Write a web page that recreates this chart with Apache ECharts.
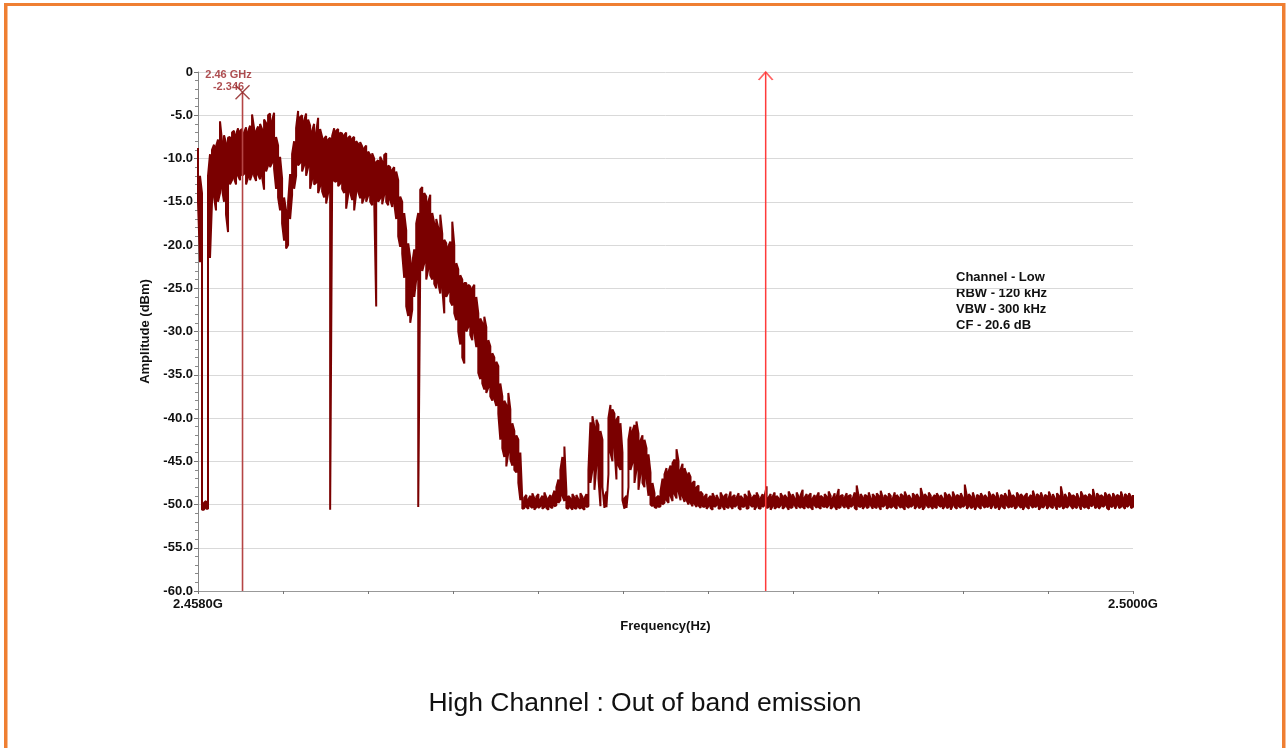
<!DOCTYPE html>
<html>
<head>
<meta charset="utf-8">
<script src="https://cdn.jsdelivr.net/npm/echarts@6/dist/echarts.min.js"></script>
<style>
html,body{margin:0;padding:0;background:#fff;}
#chart{width:1288px;height:748px;}
</style>
</head>
<body>
<div id="chart"></div>
<script>
// Sweep range (GHz)
const freqStart = 2.458;
const freqStop = 2.5;
// Per-bin peak (max) and minimum amplitude (dBm) of the trace, evenly spaced sweep bins
const traceMaxDbm = [
-8.8,-12.0,-14.0,-49.8,-49.6,-12.0,-9.5,-9.0,-8.4,-8.6,
-7.8,-5.7,-8.0,-7.3,-8.2,-7.6,-7.5,-7.0,-6.8,-7.2,
-6.5,-6.8,-6.6,-7.0,-6.4,-6.9,-6.2,-4.9,-6.5,-6.8,
-6.3,-6.0,-6.6,-5.5,-5.9,-5.0,-4.8,-5.6,-4.7,-7.5,
-8.5,-9.8,-12.3,-14.5,-16.0,-15.0,-11.8,-9.5,-8.0,-6.5,
-4.5,-5.2,-5.0,-5.6,-4.8,-5.5,-6.2,-6.8,-6.0,-7.0,
-5.3,-6.6,-7.5,-7.7,-7.4,-7.8,-7.6,-7.4,-6.5,-6.8,
-6.6,-7.0,-7.1,-7.3,-7.0,-7.6,-7.4,-7.7,-7.5,-8.0,
-8.3,-8.1,-8.6,-8.8,-8.5,-9.2,-9.6,-9.4,-10.0,-10.4,
-10.2,-9.8,-10.3,-9.6,-9.4,-10.8,-11.0,-11.3,-11.0,-11.5,
-12.5,-14.4,-15.0,-16.3,-18.3,-19.8,-21.5,-22.1,-20.5,-17.5,
-16.3,-13.6,-13.3,-14.0,-14.4,-15.0,-14.2,-16.3,-17.5,-17.0,
-18.0,-16.5,-18.7,-19.4,-19.8,-20.2,-19.6,-17.3,-20.0,-22.1,
-22.8,-23.5,-24.0,-24.4,-24.4,-24.6,-24.8,-25.0,-24.6,-26.0,
-27.9,-28.5,-29.0,-28.3,-29.5,-31.0,-31.7,-32.5,-33.0,-33.5,
-34.0,-36.0,-37.5,-38.0,-38.5,-37.1,-39.0,-40.6,-41.5,-42.0,
-42.5,-44.0,-49.6,-49.2,-48.9,-49.4,-49.0,-48.7,-49.3,-49.1,
-48.8,-49.4,-49.0,-48.6,-49.2,-49.3,-48.9,-49.1,-48.4,-48.0,
-47.1,-46.0,-44.5,-43.3,-48.5,-49.0,-49.3,-48.8,-49.2,-48.9,
-49.4,-48.7,-49.1,-49.3,-48.8,-46.0,-40.5,-39.8,-41.0,-40.2,
-40.8,-41.5,-42.5,-49.2,-48.5,-40.0,-38.5,-39.0,-39.5,-40.2,
-39.8,-40.6,-44.0,-49.3,-49.0,-42.5,-41.0,-41.5,-40.8,-40.4,
-41.8,-42.6,-42.0,-42.5,-43.5,-44.2,-46.3,-47.5,-48.7,-49.2,
-49.0,-48.5,-47.0,-46.5,-45.8,-46.2,-45.5,-45.2,-44.8,-43.6,
-45.0,-46.0,-45.3,-45.8,-46.5,-46.3,-46.8,-47.5,-47.3,-48.0,
-47.8,-48.5,-48.8,
-49.1,-48.8,-49.3,-49.0,-48.7,-49.2,-48.9,-49.4,-48.6,-49.1,
-49.0,-48.8,-49.3,-48.5,-49.1,-48.9,-49.2,-48.7,-49.0,-49.3,
-48.8,-49.1,-48.4,-49.0,-49.2,-48.9,-48.6,-49.1,-49.3,-48.8,
-49.0,-47.9,-49.2,-48.8,-49.1,-48.6,-49.0,-49.3,-48.7,-49.1,
-48.9,-49.2,-48.5,-49.0,-48.8,-49.3,-48.6,-49.1,-48.9,-48.3,
-49.2,-48.8,-49.0,-48.7,-49.3,-48.9,-49.1,-48.6,-49.0,-49.2,
-48.8,-49.1,-48.5,-49.0,-49.3,-48.7,-49.1,-48.2,-49.0,-48.9,
-49.2,-48.7,-49.0,-48.9,-49.3,-48.6,-47.8,-49.1,-48.8,-49.2,
-48.9,-49.0,-48.6,-49.3,-48.8,-49.1,-48.7,-49.0,-48.4,-49.2,
-48.9,-49.1,-48.7,-49.0,-49.3,-48.6,-48.9,-49.2,-48.8,-49.0,
-48.5,-49.1,-48.9,-49.3,-48.7,-49.0,-48.8,-49.2,-48.1,-49.0,
-48.8,-49.1,-48.6,-49.0,-49.2,-48.9,-48.7,-49.1,-48.9,-49.3,
-48.6,-49.0,-48.8,-49.2,-48.5,-49.1,-48.9,-49.0,-48.7,-49.2,
-47.7,-49.0,-48.8,-49.1,-48.6,-49.3,-48.9,-49.0,-48.7,-49.1,
-48.9,-49.2,-48.5,-49.0,-48.8,-49.1,-48.6,-49.3,-48.9,-49.0,
-48.7,-49.1,-48.3,-49.0,-48.9,-49.2,-48.6,-49.0,-48.8,-49.1,
-49.0,-48.7,-49.2,-48.9,-48.4,-49.1,-48.8,-49.0,-48.6,-49.2,
-48.9,-49.0,-48.5,-49.1,-48.8,-49.3,-48.7,-49.0,-47.9,-49.1,
-48.8,-49.2,-48.6,-49.0,-48.9,-49.1,-48.7,-49.3,-48.5,-49.0,
-48.9,-49.1,-48.8,-49.0,-48.2,-49.2,-48.7,-49.0,-48.9,-49.1,
-48.6,-49.0,-48.8,-49.2,-48.7,-49.1,-48.9,-49.0,-48.5,-49.2,
-48.8,-49.0,-48.7,-49.1,-48.9
];
const traceMinDbm = [
-15.0,-22.0,-50.6,-50.6,-50.5,-50.5,-21.5,-15.0,-14.5,-16.0,
-15.0,-14.0,-13.5,-15.0,-16.5,-18.5,-13.0,-12.5,-12.3,-13.0,
-12.0,-12.5,-12.0,-11.8,-13.0,-12.2,-12.5,-11.8,-12.0,-12.6,
-11.9,-12.4,-12.1,-13.6,-11.5,-10.8,-11.0,-10.5,-11.2,-13.5,
-14.5,-16.0,-17.5,-19.5,-20.4,-20.0,-17.0,-14.2,-13.5,-12.0,
-10.8,-10.5,-11.5,-10.8,-12.0,-11.0,-13.5,-12.4,-13.0,-12.8,
-14.0,-13.2,-13.8,-14.5,-15.2,-14.0,-50.6,-13.0,-12.6,-12.7,
-13.2,-12.9,-13.5,-14.0,-15.8,-14.2,-13.9,-14.8,-16.0,-14.0,
-13.8,-14.6,-15.2,-14.5,-15.0,-14.3,-15.0,-15.4,-14.8,-27.1,
-15.0,-14.6,-15.3,-14.2,-15.0,-15.4,-14.8,-15.6,-15.2,-17.0,
-19.0,-20.2,-21.0,-23.8,-27.1,-28.2,-29.0,-27.5,-26.0,-24.0,
-50.3,-22.5,-23.0,-22.1,-24.0,-22.8,-23.5,-24.0,-24.5,-25.0,
-24.4,-25.6,-25.0,-27.9,-26.0,-25.5,-26.5,-27.0,-27.9,-28.7,
-30.0,-31.5,-33.0,-33.7,-30.0,-29.5,-30.4,-31.0,-30.2,-31.8,
-34.8,-35.5,-36.0,-36.7,-37.1,-36.5,-37.5,-38.0,-37.8,-38.6,
-39.5,-42.5,-43.5,-44.5,-45.6,-44.0,-44.8,-45.5,-46.0,-46.3,
-47.5,-49.5,-50.5,-50.4,-50.3,-50.5,-50.2,-50.4,-50.6,-50.3,
-50.4,-50.2,-50.5,-50.3,-50.4,-50.6,-50.3,-50.4,-50.2,-50.1,
-49.8,-49.5,-49.0,-49.6,-50.4,-50.5,-50.3,-50.6,-50.4,-50.5,
-50.3,-50.5,-50.4,-50.6,-50.3,-50.2,-47.5,-46.0,-48.3,-45.5,
-47.0,-50.2,-48.0,-50.4,-50.3,-46.5,-44.0,-45.0,-43.5,-47.1,
-45.5,-46.0,-49.5,-50.5,-50.4,-48.0,-46.0,-45.2,-47.5,-46.0,
-48.3,-46.5,-47.5,-48.0,-47.0,-49.0,-50.0,-50.2,-50.3,-50.4,
-50.3,-50.2,-50.0,-49.8,-49.5,-49.8,-49.0,-49.6,-48.8,-49.3,
-48.5,-49.5,-49.0,-49.7,-49.5,-50.0,-49.8,-50.2,-49.9,-50.3,
-50.1,-50.4,-50.2,
-50.3,-50.5,-50.2,-50.4,-50.6,-50.3,-50.1,-50.5,-50.4,-50.2,
-50.6,-50.3,-50.4,-50.2,-50.5,-50.3,-50.1,-50.4,-50.6,-50.3,
-50.2,-50.5,-50.4,-50.1,-50.3,-50.6,-50.2,-50.4,-50.5,-50.3,
-50.1,-50.4,-50.3,-50.6,-50.2,-50.5,-50.3,-50.4,-50.1,-50.5,
-50.3,-50.2,-50.6,-50.4,-50.3,-50.1,-50.5,-50.2,-50.4,-50.3,
-50.5,-50.2,-50.4,-50.3,-50.6,-50.1,-50.4,-50.3,-50.5,-50.2,
-50.3,-50.4,-50.1,-50.5,-50.3,-50.2,-50.6,-50.4,-50.3,-50.1,
-50.4,-50.2,-50.5,-50.3,-50.1,-50.4,-50.6,-50.2,-50.3,-50.5,
-50.2,-50.4,-50.3,-50.1,-50.5,-50.3,-50.4,-50.2,-50.6,-50.3,
-50.1,-50.5,-50.3,-50.4,-50.2,-50.3,-50.5,-50.1,-50.4,-50.3,
-50.6,-50.2,-50.4,-50.3,-50.1,-50.5,-50.2,-50.4,-50.3,-50.6,
-50.3,-50.1,-50.4,-50.2,-50.5,-50.3,-50.4,-50.1,-50.3,-50.5,
-50.2,-50.4,-50.3,-50.6,-50.1,-50.3,-50.5,-50.2,-50.4,-50.3,
-50.1,-50.5,-50.2,-50.4,-50.3,-50.6,-50.2,-50.3,-50.5,-50.1,
-50.4,-50.3,-50.2,-50.5,-50.1,-50.4,-50.3,-50.6,-50.2,-50.3,
-50.5,-50.1,-50.4,-50.3,-50.2,-50.5,-50.3,-50.1,-50.4,-50.6,
-50.2,-50.3,-50.5,-50.1,-50.4,-50.3,-50.2,-50.6,-50.3,-50.4,
-50.1,-50.5,-50.2,-50.3,-50.4,-50.1,-50.6,-50.3,-50.2,-50.5,
-50.3,-50.4,-50.1,-50.2,-50.5,-50.3,-50.4,-50.1,-50.6,-50.2,
-50.4,-50.3,-50.5,-50.2,-50.1,-50.4,-50.3,-50.5,-50.2,-50.3,
-50.1,-50.4,-50.6,-50.3,-50.2,-50.5,-50.1,-50.4,-50.3,-50.2,
-50.5,-50.3,-50.1,-50.4,-50.3
];
// Marker
const markerFreq = 2.46;
const markerAmp = -2.346;
const markerLabel = ['2.46 GHz', '-2.346'];
// Band edge line
const edgeFreq = 2.4835;
// Axis labels
const xLabelValues = [2.458, 2.5];
const xTickLabels = ['2.4580G', '2.5000G'];
const xDivisions = 11;
const noteLines = ['Channel - Low', 'RBW - 120 kHz', 'VBW - 300 kHz', 'CF - 20.6 dB'];
const caption = 'High Channel : Out of band emission';

// Build the displayed trace: each sweep bin drawn as a peak/min stroke
const nBins = Math.min(traceMaxDbm.length, traceMinDbm.length);
const step = (freqStop - freqStart) / (nBins - 1);
const traceData = [];
for (let i = 0; i < nBins; i++) {
  const f = freqStart + i * step;
  if (i % 2 === 0) { traceData.push([f, traceMaxDbm[i]], [f, traceMinDbm[i]]); }
  else { traceData.push([f, traceMinDbm[i]], [f, traceMaxDbm[i]]); }
}
const xTickValues = [];
for (let k = 0; k <= xDivisions; k++) xTickValues.push(freqStart + k * (freqStop - freqStart) / xDivisions);

const FONT = '"Liberation Sans", Arial, sans-serif';
const orange = '#ef7f32';
const chart = echarts.init(document.getElementById('chart'), null, {renderer: 'canvas'});
chart.setOption({
  animation: false,
  backgroundColor: '#ffffff',
  grid: {left: 198, right: 155, top: 72, bottom: 157, containLabel: false},
  xAxis: {
    type: 'value', min: freqStart, max: freqStop,
    name: 'Frequency(Hz)', nameLocation: 'middle', nameGap: 29,
    nameTextStyle: {fontFamily: FONT, fontWeight: 'bold', fontSize: 13, color: '#111'},
    axisLine: {onZero: false, lineStyle: {color: '#999', width: 1}},
    axisTick: {show: true, customValues: xTickValues, length: 3, lineStyle: {color: '#777'}},
    axisLabel: {
      customValues: xLabelValues, margin: 7,
      fontFamily: FONT, fontWeight: 'bold', fontSize: 13, color: '#111',
      formatter: v => { const i = xLabelValues.findIndex(a => Math.abs(a - v) < 1e-9); return i >= 0 ? xTickLabels[i] : ''; }
    },
    splitLine: {show: false}
  },
  yAxis: {
    type: 'value', min: -60, max: 0, interval: 5,
    name: 'Amplitude (dBm)', nameLocation: 'middle', nameGap: 46, nameRotate: 90,
    nameTextStyle: {fontFamily: FONT, fontWeight: 'bold', fontSize: 13, color: '#111'},
    axisLine: {show: true, onZero: false, lineStyle: {color: '#888', width: 1}},
    axisTick: {show: true, length: 4, lineStyle: {color: '#777'}},
    minorTick: {show: true, splitNumber: 5, length: 3, lineStyle: {color: '#888'}},
    axisLabel: {
      margin: 5, fontFamily: FONT, fontWeight: 'bold', fontSize: 13, color: '#111',
      formatter: v => v === 0 ? '0' : v.toFixed(1)
    },
    splitLine: {show: true, lineStyle: {color: '#d9d9d9', width: 1}}
  },
  series: [
    {
      type: 'line', data: traceData, showSymbol: false, symbol: 'none',
      lineStyle: {color: '#7a0000', width: 2}, z: 3, silent: true
    },
    {
      type: 'line', data: [[markerFreq, markerAmp], [markerFreq, -60]], showSymbol: false, symbol: 'none',
      lineStyle: {color: '#b54545', width: 1.6}, z: 4, silent: true
    },
    {
      type: 'scatter', data: [[markerFreq, markerAmp]],
      symbol: 'path://M0,0L10,10M10,0L0,10', symbolSize: 14,
      itemStyle: {color: 'none', borderColor: '#8b1a1a', borderWidth: 1.4}, z: 5, silent: true,
      label: {
        show: true, position: 'inside', offset: [-14, -11],
        formatter: markerLabel.join('\n'), align: 'center', lineHeight: 12,
        fontFamily: FONT, fontWeight: 'bold', fontSize: 11, color: '#9a2226'
      }
    },
    {
      type: 'line', data: [[edgeFreq, 0], [edgeFreq, -60]], showSymbol: false, symbol: 'none',
      lineStyle: {color: '#ff3b3b', width: 1.5}, z: 4, silent: true
    },
    {
      type: 'scatter', data: [[edgeFreq, 0]],
      symbol: 'path://M0,8L6,0L12,8', symbolSize: [14, 8], symbolOffset: [0, 4],
      itemStyle: {color: 'none', borderColor: '#ff3b3b', borderWidth: 1.5}, z: 5, silent: true
    }
  ],
  graphic: [
    {type: 'rect', shape: {x: 4, y: 3, width: 1281, height: 3}, style: {fill: orange}, silent: true},
    {type: 'rect', shape: {x: 4, y: 3, width: 3.5, height: 745}, style: {fill: orange}, silent: true},
    {type: 'rect', shape: {x: 1282, y: 3, width: 3.5, height: 745}, style: {fill: orange}, silent: true},
    {type: 'text', left: 956, top: 269, silent: true,
      style: {text: noteLines.join('\n'), font: 'bold 13px ' + FONT, fill: '#111', lineHeight: 16}},
    {type: 'text', x: 645, y: 704, silent: true,
      style: {text: caption, font: '26.5px ' + FONT, fill: '#111', align: 'center', verticalAlign: 'middle'}}
  ]
});
</script>
</body>
</html>
